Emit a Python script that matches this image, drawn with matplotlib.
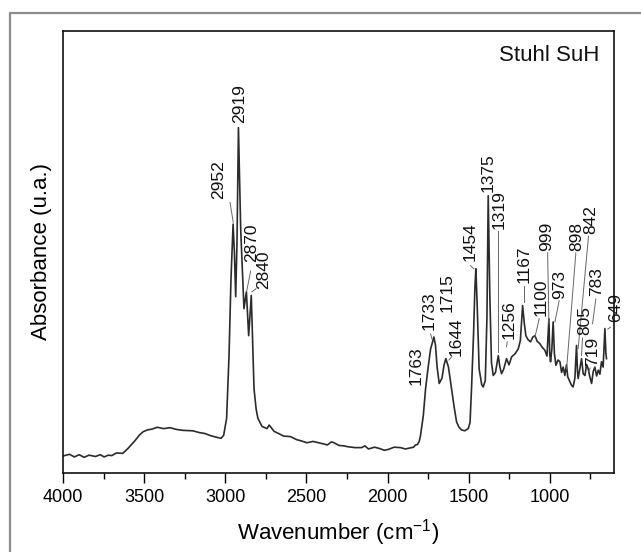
import matplotlib
matplotlib.use("Agg")
import matplotlib.pyplot as plt
from matplotlib.lines import Line2D
from matplotlib.ticker import MultipleLocator

plt.rcParams["font.family"] = ["Liberation Sans", "DejaVu Sans"]
plt.rcParams["mathtext.fontset"] = "custom"
plt.rcParams["mathtext.rm"] = "Liberation Sans"
plt.rcParams["mathtext.default"] = "regular"

# ---- spectrum (wavenumber cm-1, absorbance a.u.) ----
wavenumber = [4000, 3960, 3930, 3900, 3870, 3840, 3800, 3770, 3747, 3720, 3700, 3670,
              3632, 3600, 3556, 3530, 3506, 3480, 3450, 3420, 3380, 3340, 3300, 3260,
              3200, 3160, 3127, 3090, 3060, 3026, 3010, 2992, 2977, 2965, 2952, 2944,
              2936, 2928, 2919, 2905, 2885, 2870, 2863, 2856, 2840, 2832, 2823, 2810,
              2799, 2774, 2743, 2730, 2723, 2700, 2673, 2640, 2599, 2560, 2530, 2497,
              2460, 2414, 2390, 2371, 2346, 2330, 2300, 2270, 2244, 2200, 2160, 2140,
              2118, 2080, 2050, 2020, 1995, 1960, 1921, 1890, 1866, 1840, 1828, 1816,
              1805, 1797, 1780, 1766, 1750, 1735, 1725, 1715, 1705, 1695, 1682, 1665,
              1652, 1641, 1625, 1606, 1590, 1575, 1560, 1544, 1525, 1503, 1492, 1482,
              1470, 1462, 1456, 1448, 1436, 1420, 1411, 1398, 1388, 1380, 1370, 1360,
              1349, 1335, 1318, 1308, 1298, 1285, 1267, 1252, 1236, 1215, 1195, 1182,
              1168, 1158, 1148, 1135, 1119, 1105, 1092, 1078, 1062, 1048, 1031, 1018,
              1006, 1001, 996, 988, 980, 972, 963, 950, 938, 928, 918, 908,
              898, 890, 880, 867, 857, 846, 836, 830, 826, 815, 805, 795,
              784, 774, 764, 754, 743, 733, 723, 712, 702, 692, 682, 672,
              661, 655, 651]
absorbance = [3.9, 4.3, 3.7, 4.2, 3.6, 4.1, 3.8, 4.2, 3.7, 4.1, 4.0, 4.6,
              4.5, 5.6, 7.4, 8.6, 9.4, 9.8, 10.0, 10.4, 10.1, 10.3, 9.9, 9.7,
              9.6, 9.2, 9.0, 8.5, 8.2, 7.9, 8.6, 12.4, 26.6, 43.9, 56.3, 50.0,
              39.9, 52.0, 78.1, 55.0, 37.2, 41.0, 36.0, 31.1, 40.2, 30.0, 19.1, 14.5,
              12.4, 10.6, 10.1, 10.9, 10.6, 9.5, 9.0, 8.4, 8.3, 7.6, 7.3, 6.9,
              7.2, 6.8, 6.6, 6.4, 7.1, 6.9, 6.3, 6.2, 6.0, 5.8, 5.8, 6.2,
              5.5, 5.9, 5.6, 5.2, 5.4, 5.9, 5.8, 5.5, 5.7, 5.9, 6.4, 6.5,
              7.2, 8.6, 13.0, 19.1, 24.0, 28.1, 29.4, 30.8, 29.0, 24.0, 20.3, 21.5,
              24.5, 25.9, 24.0, 19.1, 15.0, 11.6, 10.4, 9.8, 9.6, 10.1, 11.5, 19.9,
              32.0, 42.0, 46.2, 38.0, 23.6, 20.0, 19.5, 21.0, 35.0, 62.7, 40.0, 25.0,
              22.1, 22.8, 26.6, 24.0, 22.5, 23.5, 25.9, 24.5, 26.3, 27.0, 28.1, 30.0,
              37.9, 34.0, 31.1, 30.2, 29.7, 30.8, 31.1, 29.8, 29.3, 28.5, 27.8, 26.5,
              34.9, 27.0, 25.2, 28.0, 34.2, 27.0, 24.4, 25.6, 25.2, 22.8, 24.0, 22.1,
              24.5, 21.8, 21.0, 19.9, 19.5, 21.5, 28.9, 23.0, 21.4, 23.8, 25.9, 22.5,
              22.1, 24.6, 23.6, 21.8, 20.3, 23.0, 24.0, 22.0, 23.3, 22.4, 25.2, 24.0,
              32.7, 27.0, 25.9]

# ---- peak labels ----
peak_labels = ["2919", "2952", "2870", "2840", "1763", "1733", "1715", "1644",
               "1454", "1375", "1319", "1256", "1167", "1100", "999", "973",
               "898", "842", "783", "805", "719", "649"]
# text anchor (centre wavenumber, bottom absorbance)
label_x = [2914, 3043, 2838, 2766, 1826, 1744, 1636, 1575,
           1489, 1380, 1312, 1251, 1158, 1051, 1020, 938,
           836, 748, 709, 784, 738, 594]
label_y = [79.2, 61.9, 47.7, 41.7, 19.9, 32.3, 36.4, 26.6,
           48.0, 63.6, 55.2, 30.4, 43.1, 35.6, 50.2, 39.4,
           50.2, 54.0, 40.1, 31.2, 24.2, 34.1]
# leader lines (x0, y0, x1, y1); None = no leader
leaders = [None, (2971, 61.2, 2951, 56.7), (2844, 45.7, 2868, 41.2), (2811, 41.7, 2836, 41.0),
           None, (1735, 31.5, 1727, 30.4), None, (1606, 26.3, 1622, 25.6),
           (1489, 46.9, 1468, 46.2), None, (1318, 54.8, 1318, 27.4), (1263, 29.7, 1267, 28.6),
           (1160, 42.4, 1160, 38.7), (1066, 34.9, 1092, 30.8), (1014, 49.8, 1006, 33.8),
           (943, 39.0, 969, 34.2), (840, 49.8, 897, 23.6), (762, 53.6, 826, 28.1),
           (717, 39.4, 737, 33.8), (799, 30.6, 805, 26.6), (752, 23.8, 760, 23.0),
           (627, 33.0, 643, 32.6)]

W, H = 641, 552
fig = plt.figure(figsize=(W / 100, H / 100), dpi=100)
ax = fig.add_axes([63 / W, 1 - 473.3 / H, (614 - 63) / W, (473.3 - 30.7) / H])

# grey outer frame around the figure panel
fig.add_artist(Line2D([10 / W, 10 / W, 1.0], [0.0, 1 - 13 / H, 1 - 13 / H],
                      transform=fig.transFigure, color="#8c8c8c", lw=1.6))

ax.plot(wavenumber, absorbance, color="#2b2b2b", lw=1.2)

for txt, tx, ty, ld in zip(peak_labels, label_x, label_y, leaders):
    ax.text(tx, ty, txt, rotation=90, ha="center", va="bottom", fontsize=12.5,
            color="#111111", clip_on=False)
    if ld is not None:
        ax.plot([ld[0], ld[2]], [ld[1], ld[3]], color="#666666", lw=0.7)

ax.text(0.9735, 0.967, "Stuhl SuH", transform=ax.transAxes, ha="right", va="top",
        fontsize=16, color="#111111")

ax.set_xlim(4000, 605)
ax.set_ylim(0, 100)
ax.xaxis.set_major_locator(MultipleLocator(500))
ax.xaxis.set_minor_locator(MultipleLocator(250))
ax.set_yticks([])
ax.tick_params(axis="x", which="major", direction="out", length=7.2, width=1.0,
               labelsize=13, pad=4, top=False)
ax.tick_params(axis="x", which="minor", direction="out", length=4.6, width=1.0, top=False)
for s in ax.spines.values():
    s.set_linewidth(1.2)
    s.set_color("#111111")

ax.set_xlabel("Wavenumber (cm$^{-1}$)", fontsize=16, labelpad=8)
ax.set_ylabel("Absorbance (u.a.)", fontsize=16, labelpad=8)

fig.savefig("out.png", dpi=100)
